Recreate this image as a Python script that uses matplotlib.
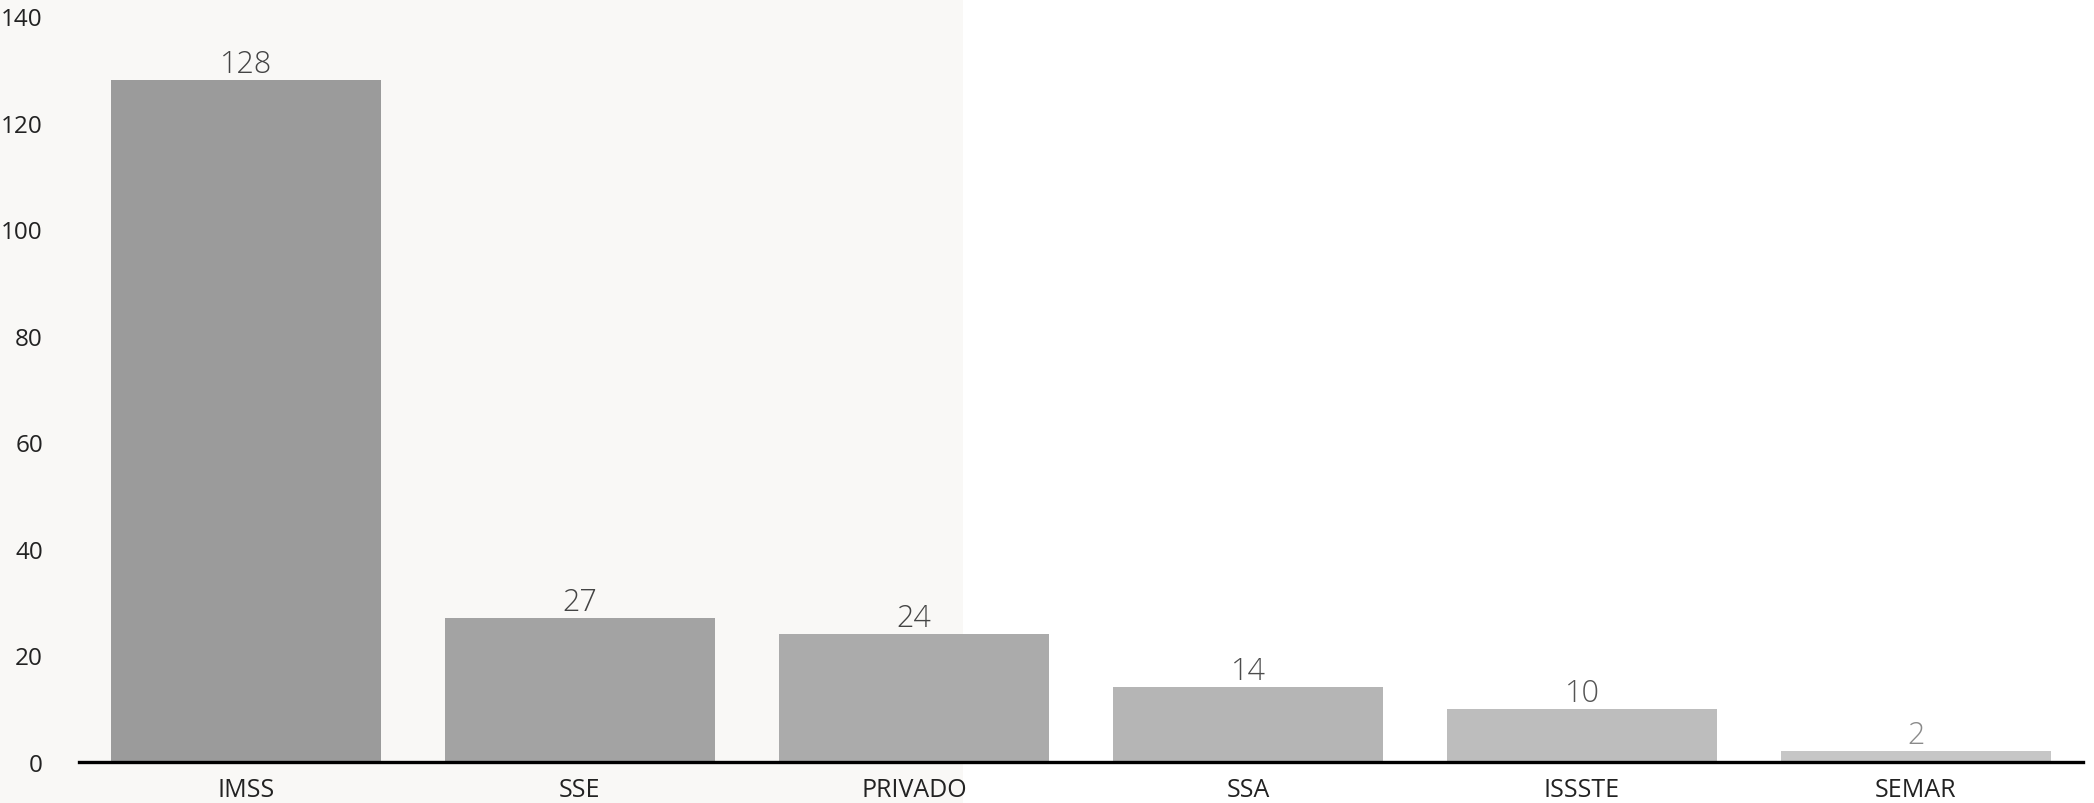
import matplotlib
matplotlib.use("Agg")
import matplotlib.pyplot as plt

categories = ["IMSS", "SSE", "PRIVADO", "SSA", "ISSSTE", "SEMAR"]
values = [128, 27, 24, 14, 10, 2]
yticks = [0, 20, 40, 60, 80, 100, 120, 140]

bar_colors = ["#9b9b9b", "#a3a3a3", "#ababab", "#b5b5b5", "#bdbdbd", "#c6c6c6"]
label_colors = ["#444444", "#444444", "#444444", "#4c4c4c", "#555555", "#8a8a8a"]

plt.rcParams['font.family'] = ['Open Sans', 'DejaVu Sans']

W, H = 2094, 804
fig = plt.figure(figsize=(W / 100, H / 100), dpi=100)
fig.patch.set_facecolor("white")

# faint watermark-like background panel on the left
bg = fig.add_axes([0, 0, 963 / W, 1], zorder=0)
bg.set_facecolor("#f9f8f6")
bg.set_xticks([])
bg.set_yticks([])
for s in bg.spines.values():
    s.set_visible(False)

left, right = 79 / W, 2083 / W
bottom, top = 1 - 763 / H, 1 - 17 / H
ax = fig.add_axes([left, bottom, right - left, top - bottom], zorder=1)
ax.patch.set_alpha(0)

x = range(len(categories))
ax.bar(x, values, width=0.81, color=bar_colors, zorder=2)
for xi, v, c in zip(x, values, label_colors):
    ax.annotate(str(v), (xi, v), xytext=(0, 0), textcoords="offset points",
                ha="center", va="bottom", fontsize=22, color=c, fontweight="light")

ax.set_xlim(-0.5, len(categories) - 0.5)
ax.set_ylim(0, 140)
ax.set_yticks(yticks)
ax.set_yticklabels([str(t) for t in yticks], fontsize=17.5, color="#222222")
ax.set_xticks(list(x))
ax.set_xticklabels(categories, fontsize=18, color="#222222")
ax.tick_params(axis="both", length=0)
ax.tick_params(axis="y", pad=26)
ax.tick_params(axis="x", pad=11)
for s in ["top", "right", "left"]:
    ax.spines[s].set_visible(False)
ax.spines["bottom"].set_linewidth(2.4)
ax.spines["bottom"].set_color("black")
ax.spines["bottom"].set_zorder(3)

fig.savefig("out.png", dpi=100)
